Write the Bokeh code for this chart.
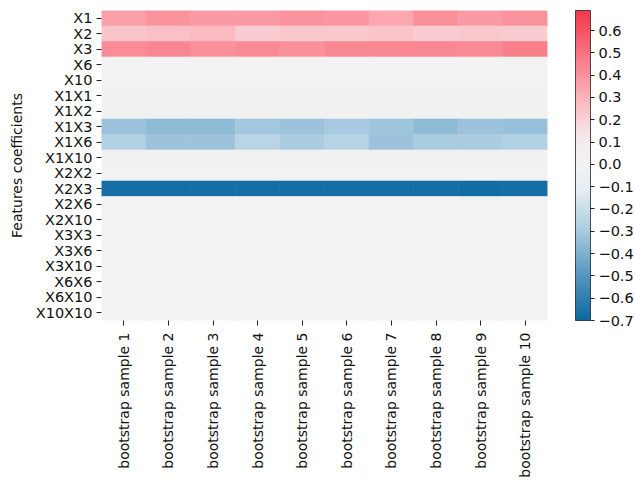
import math
from bokeh.plotting import figure
from bokeh.models import (ColumnDataSource, LinearColorMapper, ColorBar, FixedTicker,
                          CustomJSTickFormatter, AllLabels)
from bokeh.transform import transform
from bokeh.embed import file_html
from bokeh.resources import INLINE

features = ["X1", "X2", "X3", "X6", "X10", "X1X1", "X1X2", "X1X3", "X1X6", "X1X10",
            "X2X2", "X2X3", "X2X6", "X2X10", "X3X3", "X3X6", "X3X10", "X6X6", "X6X10", "X10X10"]
samples = ["bootstrap sample 1", "bootstrap sample 2", "bootstrap sample 3",
           "bootstrap sample 4", "bootstrap sample 5", "bootstrap sample 6",
           "bootstrap sample 7", "bootstrap sample 8", "bootstrap sample 9",
           "bootstrap sample 10"]

coef_X1 = [0.36, 0.40, 0.38, 0.38, 0.40, 0.39, 0.34, 0.41, 0.38, 0.40]
coef_X2 = [0.24, 0.26, 0.28, 0.22, 0.23, 0.23, 0.25, 0.22, 0.23, 0.22]
coef_X3 = [0.42, 0.44, 0.41, 0.43, 0.41, 0.44, 0.44, 0.44, 0.43, 0.46]
coef_X6 = [0.0] * 10
coef_X10 = [0.0] * 10
coef_X1X1 = [0.01] * 10
coef_X1X2 = [0.01] * 10
coef_X1X3 = [-0.33, -0.36, -0.36, -0.31, -0.33, -0.30, -0.32, -0.36, -0.33, -0.34]
coef_X1X6 = [-0.27, -0.33, -0.33, -0.25, -0.29, -0.26, -0.33, -0.29, -0.29, -0.27]
coef_X1X10 = [0.01] * 10
coef_X2X2 = [0.0] * 10
coef_X2X3 = [-0.67, -0.67, -0.67, -0.67, -0.67, -0.67, -0.67, -0.67, -0.68, -0.67]
coef_X2X6 = [0.0] * 10
coef_X2X10 = [0.0] * 10
coef_X3X3 = [0.0] * 10
coef_X3X6 = [0.0] * 10
coef_X3X10 = [0.0] * 10
coef_X6X6 = [0.0] * 10
coef_X6X10 = [0.0] * 10
coef_X10X10 = [0.0] * 10

rows = [coef_X1, coef_X2, coef_X3, coef_X6, coef_X10, coef_X1X1, coef_X1X2, coef_X1X3,
        coef_X1X6, coef_X1X10, coef_X2X2, coef_X2X3, coef_X2X6, coef_X2X10, coef_X3X3,
        coef_X3X6, coef_X3X10, coef_X6X6, coef_X6X10, coef_X10X10]

cbar_ticks = [0.6, 0.5, 0.4, 0.3, 0.2, 0.1, 0.0, -0.1, -0.2, -0.3, -0.4, -0.5, -0.6, -0.7]
vmin, vmax = -0.70, 0.69

xs, ys, vs = [], [], []
for f, vals in zip(features, rows):
    for s, v in zip(samples, vals):
        xs.append(s)
        ys.append(f)
        vs.append(v)
src = ColumnDataSource(dict(x=xs, y=ys, v=vs))

# diverging palette (blue - light gray - red)
anchors = [(-0.70, (12, 105, 160)), (-0.50, (85, 150, 192)), (-0.30, (168, 203, 224)),
           (-0.12, (228, 237, 242)), (0.0, (242, 242, 242)), (0.12, (245, 234, 235)),
           (0.30, (251, 180, 187)), (0.50, (248, 115, 128)), (0.69, (243, 56, 76))]
palette = []
N = 256
for i in range(N):
    t = vmin + (vmax - vmin) * i / (N - 1)
    for (a, ca), (b, cb_) in zip(anchors[:-1], anchors[1:]):
        if a <= t <= b + 1e-9:
            u = (t - a) / (b - a)
            c = tuple(int(round(ca[k] + (cb_[k] - ca[k]) * u)) for k in range(3))
            break
    palette.append("#%02x%02x%02x" % c)

mapper = LinearColorMapper(palette=palette, low=vmin, high=vmax)

p = figure(x_range=samples, y_range=list(reversed(features)),
           frame_width=446, frame_height=310,
           min_border_left=101, min_border_top=10, min_border_right=86, min_border_bottom=5,
           toolbar_location=None, output_backend="svg")

p.rect(x="x", y="y", width=1, height=1, source=src,
       fill_color=transform("v", mapper), line_color=transform("v", mapper), line_width=0.6)

p.outline_line_color = None
p.grid.grid_line_color = None
for ax in (p.xaxis[0], p.yaxis[0]):
    ax.axis_line_color = None
    ax.major_tick_line_color = "#222222"
    ax.major_tick_out = 5
    ax.major_tick_in = 0
    ax.minor_tick_line_color = None
    ax.major_label_text_font = "DejaVu Sans"
    ax.major_label_text_color = "#111111"

p.yaxis.major_label_text_font_size = "14.5px"
p.yaxis.major_label_standoff = 4
p.xaxis.major_label_text_font_size = "14px"
p.xaxis.major_label_standoff = 7
p.xaxis.major_label_orientation = math.pi / 2
p.yaxis.axis_label = "Features coefficients"
p.yaxis.axis_label_text_font = "DejaVu Sans"
p.yaxis.axis_label_text_font_size = "14px"
p.yaxis.axis_label_text_font_style = "normal"
p.yaxis.axis_label_text_color = "#111111"
p.yaxis.axis_label_standoff = 8

cb = ColorBar(color_mapper=mapper, ticker=FixedTicker(ticks=cbar_ticks),
              formatter=CustomJSTickFormatter(code="return (tick < -1e-9 ? '\u2212' : '') + Math.abs(tick).toFixed(1);"),
              major_label_policy=AllLabels(),
              location=(28, 0),
              width=15, margin=0, padding=0,
              border_line_color=None, background_fill_alpha=0,
              bar_line_color="#222222", bar_line_width=0.8,
              major_tick_out=4, major_tick_in=0, major_tick_line_color="#222222",
              minor_tick_line_color=None,
              major_label_text_font="DejaVu Sans", major_label_text_font_size="14.5px",
              major_label_text_color="#111111", label_standoff=4)
p.add_layout(cb, "right")

open("out.html", "w").write(file_html(p, INLINE))
